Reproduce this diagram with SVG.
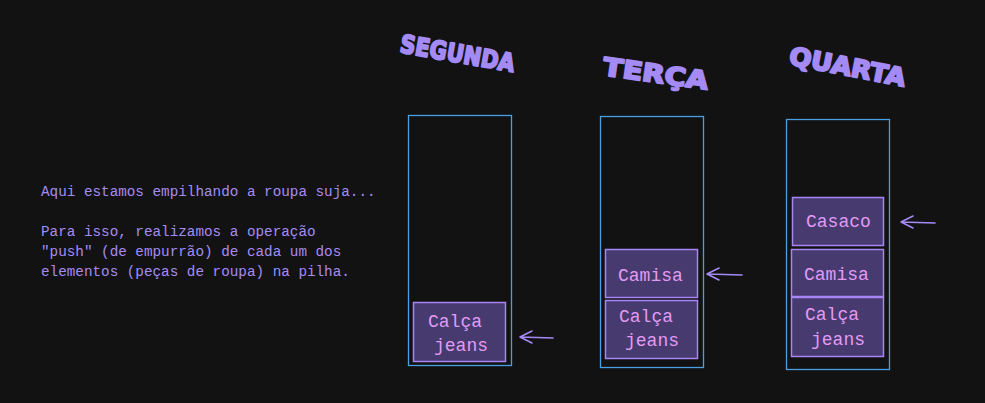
<svg xmlns="http://www.w3.org/2000/svg" width="985" height="403" viewBox="0 0 985 403">
<style>
.bg{fill:#121212}
.stack{fill:none;stroke:#4a9fe0;stroke-width:1.3}
.item rect{fill:#463a6e;stroke:#a785f5;stroke-width:1.5}
.item text{font-family:"Liberation Mono","DejaVu Sans Mono",monospace;font-size:18px;fill:#e39af5}
.title{font-family:"DejaVu Sans","Liberation Sans",sans-serif;font-weight:bold;font-size:25px;fill:#a48af5;stroke:#a48af5;stroke-width:2;stroke-linejoin:round}
.note{font-family:"Liberation Mono","DejaVu Sans Mono",monospace;font-size:14.3px;fill:#a68cf2}
.conn path{fill:none;stroke:#a48af5;stroke-width:1.6;stroke-linecap:round;stroke-linejoin:round}
</style>
<rect class="bg" x="0" y="0" width="985" height="403"/>

<g id="title-segunda"><text class="title" x="399" y="52" textLength="116" lengthAdjust="spacingAndGlyphs" transform="rotate(10 399 52)">SEGUNDA</text></g>
<g id="title-terca"><text class="title" x="602" y="75" textLength="106" lengthAdjust="spacingAndGlyphs" transform="rotate(8 602 75)">TERÇA</text></g>
<g id="title-quarta"><text class="title" x="788" y="64" textLength="118" lengthAdjust="spacingAndGlyphs" transform="rotate(11 788 64)">QUARTA</text></g>

<g id="note">
<text class="note" x="41" y="196">Aqui estamos empilhando a roupa suja...</text>
<text class="note" x="41" y="236">Para isso, realizamos a operação</text>
<text class="note" x="41" y="256">"push" (de empurrão) de cada um dos</text>
<text class="note" x="41" y="276">elementos (peças de roupa) na pilha.</text>
</g>

<g id="stack-segunda"><rect class="stack" x="408.5" y="115.5" width="103" height="250"/></g>
<g id="stack-terca"><rect class="stack" x="600.5" y="116.5" width="103" height="251"/></g>
<g id="stack-quarta"><rect class="stack" x="786.5" y="119.5" width="103" height="250"/></g>

<g id="seg-calca" class="item"><rect x="413.5" y="302.5" width="92" height="59"/><text x="428" y="327">Calça</text><text x="434" y="351">jeans</text></g>

<g id="ter-camisa" class="item"><rect x="605.5" y="249.5" width="92" height="48"/><text x="618" y="281">Camisa</text></g>
<g id="ter-calca" class="item"><rect x="605.5" y="300.5" width="92" height="58"/><text x="619" y="322">Calça</text><text x="625" y="346">jeans</text></g>

<g id="qua-casaco" class="item"><rect x="792.5" y="197.5" width="91" height="48"/><text x="806" y="227">Casaco</text></g>
<g id="qua-camisa" class="item"><rect x="791.5" y="249.5" width="92" height="47"/><text x="804" y="280">Camisa</text></g>
<g id="qua-calca" class="item"><rect x="791.5" y="297.5" width="92" height="59"/><text x="805" y="320">Calça</text><text x="811" y="345">jeans</text></g>

<g id="connectors" class="conn">
<path d="M553 338 L520 337 M532 331 L520 337 L532 343"/>
<path d="M742 275 L707 274 M719 268 L707 274 L719 280"/>
<path d="M935 223 L901 222 M913 216 L901 222 L913 228"/>
</g>
</svg>
